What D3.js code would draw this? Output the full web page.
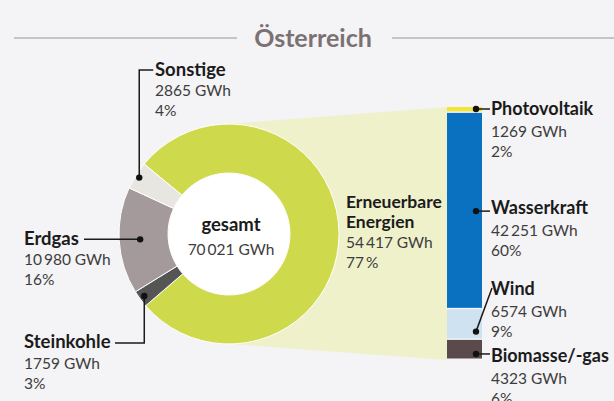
<!DOCTYPE html>
<html>
<head>
<meta charset="utf-8">
<script src="https://cdn.jsdelivr.net/npm/d3@7"></script>
<style>
  html, body { margin: 0; padding: 0; background: #f4f3f5; }
  svg { display: block; font-family: Lato, "Open Sans", sans-serif; }
</style>
</head>
<body>
<svg id="chart" width="614" height="401"></svg>
<script>
// ---- data ----
const title = "Österreich";
const mixNames = ["Erneuerbare Energien", "Steinkohle", "Erdgas", "Sonstige"];
const mixValues = [54417, 1759, 10980, 2865];
const mixPercents = ["77\u2009%", "3%", "16%", "4%"];
const totalLabel = "gesamt";
const totalValue = 70021;
const renewNames = ["Photovoltaik", "Wasserkraft", "Wind", "Biomasse/-gas"];
const renewValues = [1269, 42251, 6574, 4323];
const renewPercents = ["2%", "60%", "9%", "6%"];

// ---- styles ----
const mixColors = ["#cfd94c", "#555555", "#a4999b", "#e7e6e0"];
const renewColors = ["#f3e33a", "#0a71c1", "#cfe2f1", "#5b4a4b"];
const fanColor = "#eff1cb";
const bg = "#f4f3f5";

const fmt = v => {
  const s = String(v);
  return s.length > 4 ? s.slice(0, s.length - 3) + "\u2009" + s.slice(-3) : s;
};

const svg = d3.select("#chart");
svg.append("rect").attr("width", 614).attr("height", 401).attr("fill", bg);

// title + rules
svg.append("text").attr("x", 313).attr("y", 47)
  .attr("text-anchor", "middle").attr("font-weight", 700).attr("font-size", 25)
  .attr("fill", "#7b7173").text(title);
svg.append("line").attr("x1", 14).attr("x2", 237).attr("y1", 38).attr("y2", 38)
  .attr("stroke", "#b9b5b7").attr("stroke-width", 1.3);
svg.append("line").attr("x1", 392).attr("x2", 614).attr("y1", 38).attr("y2", 38)
  .attr("stroke", "#b9b5b7").attr("stroke-width", 1.3);

// geometry
const cx = 229, cy = 234, rOuter = 110, rInner = 61;
const barX = 447, barW = 35, barTop = 107, barBottom = 360;
const renewTotal = d3.sum(renewValues);
const yBar = d3.scaleLinear().domain([0, renewTotal]).range([barTop, barBottom]);

// fan
svg.append("path")
  .attr("d", d3.line()([[cx, cy - rOuter], [barX, yBar(0)], [barX, yBar(renewTotal)], [cx, cy + rOuter]]) + "Z")
  .attr("fill", fanColor);

// donut
const startDeg = -50.5;
const pie = d3.pie().sort(null).value(d => d)
  .startAngle(startDeg * Math.PI / 180).endAngle(startDeg * Math.PI / 180 + 2 * Math.PI);
const arcs = pie(mixValues);
const arc = d3.arc().innerRadius(rInner).outerRadius(rOuter);
const g = svg.append("g").attr("transform", `translate(${cx},${cy})`);
g.selectAll("path.slice").data(arcs).join("path").attr("class", "slice")
  .attr("d", arc).attr("fill", (d, i) => mixColors[i])
  .attr("stroke", "#ffffff").attr("stroke-width", 1);
g.append("circle").attr("r", rInner - 0.5).attr("fill", "#ffffff");

// center text
svg.append("text").attr("x", cx + 2).attr("y", 231).attr("text-anchor", "middle")
  .attr("font-weight", 700).attr("font-size", 18.5).attr("fill", "#1b1b1b").text(totalLabel);
svg.append("text").attr("x", cx + 2).attr("y", 255).attr("text-anchor", "middle")
  .attr("font-size", 15.5).attr("fill", "#3d3d3d").text(fmt(totalValue) + " GWh");

// bar
svg.selectAll("rect.seg").data(renewValues).join("rect").attr("class", "seg")
  .attr("x", barX).attr("width", barW)
  .attr("y", (d, i) => yBar(d3.sum(renewValues.slice(0, i))))
  .attr("height", (d, i) => Math.max(0, yBar(d) - yBar(0) - 1.5))
  .attr("fill", (d, i) => renewColors[i]);

// label helper
function label(x, yBase, lines, boldSize) {
  const t = svg.append("text").attr("x", x).attr("y", yBase);
  lines.forEach((l, i) => {
    t.append("tspan").attr("x", x).attr("dy", i === 0 ? 0 : l.dy || 20.5)
      .attr("font-weight", l.bold ? 700 : 400)
      .attr("font-size", l.bold ? (boldSize || 18.5) : 15.5)
      .attr("fill", l.bold ? "#1b1b1b" : "#3d3d3d")
      .text(l.text);
  });
  return t;
}
const leader = pts => svg.append("path").attr("d", d3.line()(pts))
  .attr("fill", "none").attr("stroke", "#1b1b1b").attr("stroke-width", 1.5);
const dot = (p) => svg.append("circle").attr("cx", p[0]).attr("cy", p[1]).attr("r", 3.2).attr("fill", "#111");

// donut labels
const dotAt = (i, r) => {
  const c = d3.arc().innerRadius(r).outerRadius(r).centroid(arcs[i]);
  return [cx + c[0], cy + c[1]];
};
// Sonstige (3)
let p = dotAt(3, 106);
leader([[p[0], p[1]], [p[0], 70], [p[0] + 14, 70]]); dot(p);
label(155, 76, [{text: mixNames[3], bold: true}, {text: fmt(mixValues[3]) + " GWh", dy: 20}, {text: mixPercents[3], dy: 19.5}]);
// Erdgas (2)
p = dotAt(2, 89);
leader([[84, p[1]], p]); dot(p);
label(24, 245, [{text: mixNames[2], bold: true}, {text: fmt(mixValues[2]) + " GWh", dy: 20}, {text: mixPercents[2], dy: 20}]);
// Steinkohle (1)
p = dotAt(1, 105);
leader([p, [p[0], 343], [115, 343]]); dot(p);
label(24, 348, [{text: mixNames[1], bold: true}, {text: fmt(mixValues[1]) + " GWh", dy: 21}, {text: mixPercents[1], dy: 19.5}]);
// Erneuerbare (0)
label(346, 208, [{text: "Erneuerbare", bold: true}, {text: "Energien", bold: true, dy: 20}, {text: fmt(mixValues[0]) + " GWh", dy: 20}, {text: mixPercents[0], dy: 20}], 17.5);

// bar labels
const dotX = barX + 29, lblX = 491;
const segMid = i => (yBar(d3.sum(renewValues.slice(0, i))) + yBar(d3.sum(renewValues.slice(0, i + 1)))) / 2;
const renewDots = [
  [dotX, yBar(0) + 2],
  [dotX, segMid(1)],
  [dotX, segMid(2) + 7],
  [dotX, segMid(3) + 4]
];
const renewLabelY = [115, 214, 295, 362];
renewNames.forEach((n, i) => {
  const d = renewDots[i];
  if (i === 2) leader([d, [lblX + 1, 288]]);
  else leader([d, [lblX - 1, d[1]]]);
  dot(d);
  label(lblX, renewLabelY[i], [{text: n, bold: true}, {text: fmt(renewValues[i]) + " GWh", dy: 21.5}, {text: renewPercents[i], dy: 20.5}], 18);
});
</script>
</body>
</html>
